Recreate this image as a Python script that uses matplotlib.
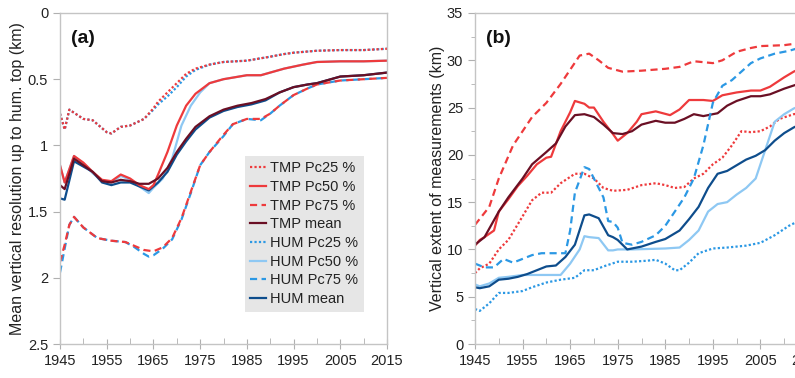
import matplotlib
matplotlib.use("Agg")
import matplotlib.pyplot as plt
from matplotlib.ticker import MultipleLocator

plt.rcParams['font.family'] = ['Liberation Sans', 'DejaVu Sans']

# ---------------- Panel (a): mean vertical resolution (km) ----------------
a_tmp25_x = [1945, 1946, 1947, 1950, 1952, 1955, 1956, 1958, 1960, 1963, 1965, 1966, 1968, 1970, 1972, 1974, 1977, 1980, 1985, 1990, 1993, 1995, 2000, 2005, 2010, 2015]
a_tmp25_y = [0.76, 0.88, 0.73, 0.80, 0.81, 0.90, 0.91, 0.86, 0.85, 0.80, 0.72, 0.67, 0.60, 0.53, 0.46, 0.42, 0.39, 0.37, 0.36, 0.33, 0.31, 0.30, 0.285, 0.28, 0.28, 0.27]
a_hum25_x = [1945, 1946, 1947, 1950, 1952, 1955, 1956, 1958, 1960, 1963, 1965, 1966, 1968, 1970, 1972, 1974, 1977, 1980, 1985, 1990, 1993, 1995, 2000, 2005, 2010, 2015]
a_hum25_y = [0.76, 0.88, 0.73, 0.80, 0.81, 0.90, 0.91, 0.86, 0.85, 0.80, 0.73, 0.69, 0.63, 0.56, 0.48, 0.43, 0.39, 0.37, 0.36, 0.33, 0.31, 0.30, 0.285, 0.28, 0.28, 0.27]

a_tmp50_x = [1945, 1946, 1948, 1950, 1952, 1954, 1956, 1958, 1960, 1962, 1964, 1965, 1966, 1968, 1970, 1972, 1974, 1977, 1980, 1985, 1988, 1990, 1993, 1997, 2000, 2005, 2010, 2015]
a_tmp50_y = [1.15, 1.28, 1.08, 1.13, 1.20, 1.26, 1.27, 1.22, 1.25, 1.30, 1.33, 1.30, 1.22, 1.05, 0.85, 0.70, 0.61, 0.53, 0.50, 0.47, 0.47, 0.45, 0.42, 0.39, 0.37, 0.365, 0.365, 0.36]
a_hum50_x = [1945, 1946, 1948, 1950, 1952, 1954, 1956, 1958, 1960, 1962, 1964, 1965, 1967, 1969, 1971, 1973, 1975, 1977, 1980, 1985, 1988, 1990, 1993, 1997, 2000, 2005, 2010, 2015]
a_hum50_y = [1.15, 1.28, 1.08, 1.14, 1.21, 1.27, 1.28, 1.23, 1.26, 1.31, 1.36, 1.32, 1.25, 1.10, 0.85, 0.70, 0.60, 0.53, 0.50, 0.47, 0.47, 0.45, 0.42, 0.39, 0.37, 0.365, 0.365, 0.36]

a_tmp75_x = [1945, 1946, 1947, 1948, 1950, 1953, 1956, 1959, 1961, 1963, 1965, 1967, 1969, 1971, 1973, 1975, 1977, 1980, 1982, 1985, 1988, 1990, 1992, 1995, 1998, 2000, 2005, 2010, 2015]
a_tmp75_y = [1.88, 1.75, 1.60, 1.54, 1.62, 1.70, 1.72, 1.73, 1.76, 1.79, 1.80, 1.77, 1.70, 1.55, 1.35, 1.15, 1.05, 0.92, 0.84, 0.80, 0.80, 0.76, 0.70, 0.62, 0.57, 0.54, 0.51, 0.50, 0.49]
a_hum75_x = [1945, 1946, 1947, 1948, 1950, 1953, 1956, 1959, 1961, 1963, 1964, 1965, 1967, 1969, 1971, 1973, 1975, 1977, 1980, 1982, 1985, 1988, 1990, 1992, 1995, 1998, 2000, 2005, 2010, 2015]
a_hum75_y = [1.96, 1.78, 1.60, 1.54, 1.62, 1.70, 1.72, 1.73, 1.77, 1.82, 1.84, 1.83, 1.78, 1.71, 1.56, 1.36, 1.15, 1.05, 0.93, 0.84, 0.80, 0.81, 0.76, 0.70, 0.62, 0.57, 0.54, 0.51, 0.50, 0.49]

a_tmpm_x = [1945, 1946, 1948, 1950, 1952, 1954, 1956, 1958, 1960, 1962, 1964, 1966, 1968, 1970, 1972, 1974, 1977, 1980, 1983, 1986, 1989, 1992, 1995, 1998, 2000, 2003, 2005, 2010, 2015]
a_tmpm_y = [1.30, 1.33, 1.10, 1.15, 1.20, 1.27, 1.28, 1.26, 1.27, 1.29, 1.29, 1.25, 1.17, 1.05, 0.95, 0.86, 0.78, 0.73, 0.70, 0.68, 0.65, 0.60, 0.56, 0.54, 0.53, 0.50, 0.48, 0.47, 0.45]
a_humm_x = [1945, 1946, 1948, 1950, 1952, 1954, 1956, 1958, 1960, 1962, 1964, 1966, 1968, 1970, 1972, 1974, 1977, 1980, 1983, 1986, 1989, 1992, 1995, 1998, 2000, 2003, 2005, 2010, 2015]
a_humm_y = [1.40, 1.41, 1.12, 1.16, 1.20, 1.28, 1.30, 1.28, 1.28, 1.31, 1.34, 1.28, 1.20, 1.07, 0.97, 0.88, 0.79, 0.74, 0.71, 0.69, 0.66, 0.60, 0.56, 0.54, 0.53, 0.50, 0.48, 0.47, 0.45]

# ---------------- Panel (b): vertical extent of measurements (km) ----------------
b_tmp75_x = [1945, 1948, 1950, 1953, 1955, 1957, 1960, 1963, 1965, 1967, 1969, 1971, 1973, 1976, 1980, 1985, 1988, 1991, 1993, 1995, 1997, 2000, 2003, 2005, 2010, 2013, 2015]
b_tmp75_y = [12.6, 14.5, 17.5, 21.0, 22.5, 24.0, 25.5, 27.5, 29.0, 30.5, 30.7, 30.0, 29.2, 28.8, 28.9, 29.1, 29.3, 29.9, 29.8, 29.7, 30.0, 30.9, 31.3, 31.5, 31.6, 31.8, 32.0]

b_tmp50_x = [1945, 1946, 1947, 1949, 1950, 1952, 1954, 1956, 1958, 1960, 1961, 1963, 1965, 1966, 1968, 1969, 1970, 1972, 1974, 1975, 1977, 1979, 1980, 1983, 1986, 1988, 1990, 1993, 1995, 1997, 2000, 2003, 2005, 2007, 2010, 2012, 2015]
b_tmp50_y = [10.4, 11.0, 11.3, 12.0, 14.0, 15.3, 16.7, 17.8, 19.0, 19.7, 19.8, 22.5, 24.5, 25.7, 25.4, 25.0, 25.0, 23.5, 22.2, 21.5, 22.3, 23.5, 24.3, 24.6, 24.2, 24.8, 25.8, 25.8, 25.7, 26.3, 26.6, 26.8, 26.8, 27.2, 28.2, 28.8, 29.5]

b_tmpm_x = [1945, 1947, 1950, 1952, 1955, 1957, 1960, 1962, 1964, 1966, 1968, 1970, 1972, 1974, 1976, 1978, 1980, 1983, 1985, 1987, 1989, 1991, 1993, 1996, 1998, 2000, 2003, 2005, 2007, 2010, 2013, 2015]
b_tmpm_y = [10.5, 11.3, 14.0, 15.5, 17.5, 19.0, 20.3, 21.2, 23.0, 24.2, 24.3, 24.0, 23.2, 22.3, 22.2, 22.5, 23.2, 23.6, 23.4, 23.4, 23.8, 24.3, 24.1, 24.4, 25.2, 25.7, 26.2, 26.2, 26.4, 27.0, 27.5, 27.8]

b_tmp25_x = [1945, 1946, 1948, 1950, 1952, 1955, 1957, 1959, 1961, 1963, 1966, 1968, 1970, 1972, 1974, 1977, 1980, 1983, 1985, 1987, 1989, 1991, 1993, 1995, 1997, 1999, 2001, 2003, 2005, 2007, 2009, 2012, 2015]
b_tmp25_y = [7.5, 8.0, 8.5, 10.0, 11.0, 13.5, 15.2, 16.0, 16.0, 17.0, 18.0, 18.0, 17.5, 16.5, 16.2, 16.3, 16.8, 17.0, 16.8, 16.5, 16.6, 17.5, 18.0, 19.0, 19.7, 21.0, 22.5, 22.4, 22.5, 23.0, 23.8, 24.3, 24.5]

b_hum75_x = [1945, 1947, 1949, 1951, 1953, 1955, 1957, 1959, 1961, 1964, 1965, 1966, 1968, 1969, 1970, 1972, 1973, 1974, 1975, 1976, 1978, 1980, 1983, 1985, 1987, 1989, 1991, 1993, 1995, 1997, 1999, 2001, 2003, 2005, 2008, 2011, 2013, 2015]
b_hum75_y = [8.5, 8.1, 8.1, 9.0, 8.6, 9.0, 9.4, 9.6, 9.6, 9.6, 12.0, 16.0, 18.7, 18.5, 17.5, 15.5, 13.0, 12.9, 12.3, 10.7, 10.5, 10.8, 11.5, 12.5, 14.0, 15.5, 17.5, 21.0, 25.5, 27.3, 27.9, 28.8, 29.7, 30.2, 30.7, 31.0, 31.3, 31.6]

b_humm_x = [1945, 1946, 1948, 1950, 1952, 1954, 1956, 1958, 1960, 1962, 1964, 1966, 1968, 1969, 1971, 1973, 1974, 1975, 1977, 1980, 1983, 1985, 1988, 1990, 1992, 1994, 1996, 1998, 2000, 2002, 2004, 2006, 2008, 2010, 2012, 2015]
b_humm_y = [6.0, 5.9, 6.1, 6.8, 6.9, 7.1, 7.4, 7.8, 8.2, 8.3, 9.2, 10.5, 13.6, 13.7, 13.3, 11.5, 11.3, 11.0, 10.0, 10.3, 10.8, 11.1, 12.0, 13.2, 14.5, 16.5, 18.0, 18.3, 18.9, 19.5, 19.9, 20.5, 21.5, 22.3, 22.9, 23.6]

b_hum50_x = [1945, 1946, 1948, 1950, 1952, 1955, 1958, 1960, 1963, 1965, 1967, 1968, 1969, 1971, 1973, 1974, 1975, 1978, 1985, 1988, 1990, 1992, 1994, 1996, 1998, 2000, 2002, 2004, 2006, 2008, 2010, 2012, 2015]
b_hum50_y = [6.3, 6.1, 6.4, 7.0, 7.1, 7.3, 7.3, 7.3, 7.3, 8.5, 10.0, 11.4, 11.3, 11.2, 9.9, 9.9, 10.0, 10.0, 10.1, 10.2, 11.0, 12.0, 14.0, 14.8, 15.0, 15.8, 16.5, 17.5, 20.5, 23.5, 24.3, 24.9, 25.5]

b_hum25_x = [1945, 1946, 1948, 1950, 1952, 1955, 1957, 1960, 1963, 1966, 1968, 1970, 1972, 1975, 1978, 1981, 1983, 1985, 1987, 1988, 1990, 1992, 1995, 1998, 2002, 2005, 2008, 2011, 2013, 2015]
b_hum25_y = [3.7, 3.5, 4.3, 5.4, 5.4, 5.6, 6.0, 6.5, 6.8, 7.0, 7.8, 7.8, 8.2, 8.7, 8.7, 8.8, 8.9, 8.5, 7.8, 7.8, 8.6, 9.6, 10.1, 10.2, 10.4, 10.7, 11.5, 12.5, 13.0, 13.5]

labels = ["TMP Pc25 %", "TMP Pc50 %", "TMP Pc75 %", "TMP mean",
          "HUM Pc25 %", "HUM Pc50 %", "HUM Pc75 %", "HUM mean"]
xticks = [1945, 1955, 1965, 1975, 1985, 1995, 2005, 2015]

RED = '#ee3a3c'
DRED = '#6a0f24'
BLUE = '#2b98e4'
LBLUE = '#8ec8f3'
DBLUE = '#0e4d8c'
DOT = (0, (1, 1))
DASH = (0, (3.2, 2))
LW = 1.6

styles = [
    dict(color=RED, ls=DOT), dict(color=RED, ls='-'), dict(color=RED, ls=DASH), dict(color=DRED, ls='-'),
    dict(color=BLUE, ls=DOT), dict(color=LBLUE, ls='-'), dict(color=BLUE, ls=DASH), dict(color=DBLUE, ls='-'),
]

fig = plt.figure(figsize=(7.95, 3.78), dpi=100)
axa = fig.add_axes([60/795, 34/378, 327/795, 331/378])
axb = fig.add_axes([475/795, 34/378, 333/795, 331/378])

series_a = [(a_tmp25_x, a_tmp25_y), (a_tmp50_x, a_tmp50_y), (a_tmp75_x, a_tmp75_y), (a_tmpm_x, a_tmpm_y),
            (a_hum25_x, a_hum25_y), (a_hum50_x, a_hum50_y), (a_hum75_x, a_hum75_y), (a_humm_x, a_humm_y)]
series_b = [(b_tmp25_x, b_tmp25_y), (b_tmp50_x, b_tmp50_y), (b_tmp75_x, b_tmp75_y), (b_tmpm_x, b_tmpm_y),
            (b_hum25_x, b_hum25_y), (b_hum50_x, b_hum50_y), (b_hum75_x, b_hum75_y), (b_humm_x, b_humm_y)]

# draw order: blues under reds where overlapping in (a)
order_a = [4, 5, 6, 7, 0, 1, 2, 3]
handles = [None] * 8
for i in order_a:
    x, y = series_a[i]
    ln, = axa.plot(x, y, lw=LW, label=labels[i], **styles[i])
    handles[i] = ln
for i in range(8):
    x, y = series_b[i]
    axb.plot(x, y, lw=LW, **styles[i])

for ax in (axa, axb):
    ax.set_xlim(1945, 2015)
    ax.set_xticks(xticks)
    ax.xaxis.set_minor_locator(MultipleLocator(5))
    for s in ax.spines.values():
        s.set_color('#c4c4c4')
        s.set_linewidth(1.0)
    ax.tick_params(axis='both', which='both', colors='#b0b0b0', labelcolor='#222222', labelsize=10.5)
    ax.tick_params(axis='x', which='major', direction='inout', length=7, pad=4)
    ax.tick_params(axis='x', which='minor', direction='in', length=4)
    ax.tick_params(axis='y', which='major', direction='out', length=5)
    ax.tick_params(axis='y', which='minor', direction='out', length=3)

axa.set_ylim(2.5, 0)
axa.set_yticks([0, 0.5, 1, 1.5, 2, 2.5])
axa.set_yticklabels(['0', '0.5', '1', '1.5', '2', '2.5'])
axa.set_ylabel('Mean vertical resolution up to hum. top (km)', fontsize=11.5, color='#222222', labelpad=2)
axa.text(0.034, 0.91, '(a)', transform=axa.transAxes, fontsize=14, fontweight='bold', color='#111111')

axb.set_ylim(0, 35)
axb.set_yticks(range(0, 36, 5))
axb.yaxis.set_minor_locator(MultipleLocator(2.5))
axb.set_ylabel('Vertical extent of measurements (km)', fontsize=11.5, color='#222222', labelpad=1)
axb.text(0.034, 0.91, '(b)', transform=axb.transAxes, fontsize=14, fontweight='bold', color='#111111')

leg = axa.legend(handles=handles, loc='lower right', bbox_to_anchor=(0.93, 0.097),
                 fontsize=10.5, frameon=True, fancybox=False, handlelength=1.05,
                 handletextpad=0.3, labelspacing=0.32, borderpad=0.4, borderaxespad=0)
leg.get_frame().set_facecolor('#e6e6e6')
leg.get_frame().set_edgecolor('none')
leg.get_frame().set_alpha(1)
for t in leg.get_texts():
    t.set_color('#222222')

fig.savefig('out.png', dpi=100)
